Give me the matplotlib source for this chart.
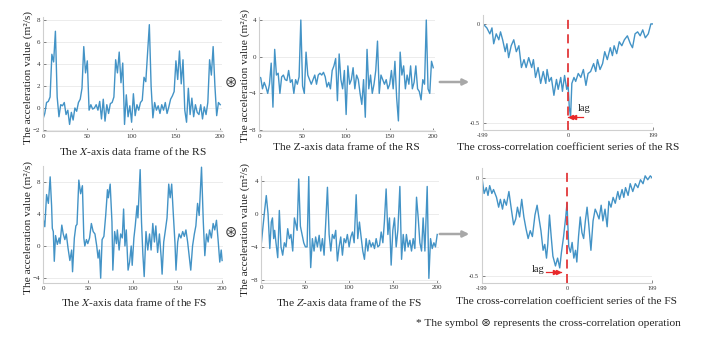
import numpy as np
import matplotlib
matplotlib.use("Agg")
import matplotlib.pyplot as plt
from matplotlib.patches import FancyArrowPatch

plt.rcParams['font.family'] = ['Liberation Serif', 'DejaVu Sans']
plt.rcParams['mathtext.fontset'] = 'stix'

# ---- data ----

# X axis, RS (every 2 samples)
rs_x_t = list(range(0, 201, 2))
rs_x = [-1.0, -0.5, 0.5, 0.6, 1.0, 4.9, 4.2, 7.0, 1.0, -0.8,
        0.3, 0.2, 0.5, -0.6, -0.2, -1.5, -0.4, -1.1, 0.0, -0.3,
        0.5, 0.8, 1.8, 5.6, 3.2, 4.3, -0.2, 0.3, -0.1, 0.0,
        0.3, -0.2, 0.6, -1.0, 0.8, -1.2, 0.3, -0.5, 0.4, 0.5,
        1.0, 4.4, 3.2, 5.1, 2.3, 4.1, -1.5, 1.2, -0.8, 0.2,
        -1.3, 1.3, -0.7, 0.3, -0.2, 0.5, 0.7, 2.8, 2.4, 5.0,
        7.6, 2.0, -0.9, 0.5, -0.2, 0.2, -0.5, 0.3, -0.2, 0.5,
        -0.5, 0.1, 0.8, 1.1, 1.5, 4.3, 2.6, 5.2, 2.2, 4.4,
        -0.2, -1.3, 1.8, -0.6, 0.9, -0.8, 0.3, -0.4, -0.6, 0.3,
        -1.0, 0.1, -0.6, 0.5, 4.4, 3.0, 5.6, 2.0, -0.7, 0.5,
        0.3]

# Z axis, RS (every 2 samples)
rs_z_t = list(range(0, 201, 2))
rs_z = [-2.2, -2.3, -3.5, -2.8, -3.3, -4.0, -3.0, -0.7, -5.5, 0.8,
        -2.0, -1.8, -4.0, -2.2, -2.0, -2.5, -2.6, -1.5, -2.8, -2.5,
        -4.0, -2.5, -3.0, -2.2, 4.0, -3.2, -4.0, 0.5, -2.0, -2.5,
        -3.0, -2.5, -2.0, -3.0, -2.0, -1.8, -2.0, -1.7, -2.2, -3.3,
        -2.8, -3.5, -1.5, -1.0, -0.2, -4.8, 0.3, -2.5, -3.5, -1.5,
        -6.3, -1.0, -3.0, -2.5, -1.2, -3.5, -2.0, -2.5, -4.0, -5.2,
        -2.5, -6.6, 0.8, -3.5, -2.0, -4.0, -3.0, -1.5, 1.7, -4.0,
        -2.0, -2.5, -3.0, -2.5, -3.5, -3.0, -1.5, -3.5, -0.5, -4.5,
        -7.0, 0.5, -2.0, -1.0, -3.5, -2.0, -3.0, -1.0, -3.5, -2.8,
        -1.0, -3.5, -3.8, -4.7, -2.5, -3.0, 4.0, -3.5, -4.0, -0.5,
        -1.2]

# X axis, FS
fs_x_t = [0, 2, 4, 6, 8, 9.6, 10.4, 11.5, 12.6, 14, 16, 18, 19, 21, 22.6, 24.4, 26, 28, 30, 32,
          33, 35, 36.7, 38, 40, 42, 44, 45.6, 46.7, 48.5, 50, 52, 54, 56, 58, 60, 61.5, 63, 64.4, 66,
          68, 70, 72, 73, 75, 77, 78, 80, 82, 83, 85, 86.7, 88.5, 90, 91.5, 93, 95, 96.7, 98.5, 99.6,
          101.5, 103, 105, 106, 108.5, 110, 111.5, 113, 115, 117, 119, 120.7, 122.6, 124.4, 126, 128, 130, 132, 133, 134.8,
          136.7, 138.5, 140.4, 142, 143.7, 145.5, 147.4, 148.5, 150.4, 152, 154, 156, 157.8, 159.6, 161.5, 163, 165, 167, 169, 170.7,
          172.6, 174.4, 177, 179, 180.7, 182.6, 184.4, 186, 188, 190, 191.8, 193.7, 195.5, 197.4, 199, 200]
fs_x = [3.5, 2.4, 6.4, 5.3, 8.6, 5.0, 2.2, 1.8, -1.9, 1.3, 0.2, 1.0, 0.3, 2.6, 1.5, 0.8, 1.5, -0.3, -1.8, -0.5,
        -3.2, 1.0, 2.5, 2.7, 8.2, 6.5, 7.5, 1.0, 0.0, 0.8, 0.3, 1.0, 2.8, 1.8, 1.5, 0.0, -1.5, -0.5, -4.0, 0.8,
        1.2, 3.8, 7.0, 6.0, 7.7, 3.0, -3.0, 1.8, 0.3, 2.0, -0.5, 1.5, 1.0, 4.6, 0.0, 2.0, -3.0, -2.0, 0.0, -2.4,
        1.0, 2.5, 5.0, 3.5, 9.5, 3.0, -1.0, -3.8, 1.8, -0.5, 1.5, -0.5, 2.8, 0.5, 2.5, -0.8, 1.5, -1.5, -3.5, 0.5,
        2.0, 3.5, 7.7, 6.0, 7.7, 4.0, 0.3, -3.0, 0.5, 1.5, 1.0, 1.8, 1.2, 2.0, 0.5, -1.0, -3.0, 0.0, 1.5, 2.5,
        5.3, 3.8, 9.8, 3.0, -1.2, 1.5, 0.5, 2.0, 1.0, 2.8, 2.0, 3.2, 0.8, -2.0, -0.5, -1.8]

# Z axis, FS
fs_z_t = [0, 2.3, 4.2, 6, 8, 10, 11.7, 13, 14.4, 15.5, 17, 19, 20.8, 22.7, 24.6, 26.5, 28.4, 30.3, 32.2, 34,
          36, 37.9, 41, 42.8, 44.7, 46.6, 48.5, 50.4, 52.3, 54.2, 55.3, 56.4, 58.3, 60.2, 62, 64, 66, 67.8, 69.7, 71.6,
          73.5, 75.4, 77.3, 79.2, 81, 83, 84.8, 86.7, 88.6, 90.5, 92.4, 94.3, 96.2, 98, 100, 101.9, 103.8, 105.7, 108, 109.8,
          111.7, 113.6, 115.5, 117.4, 119.3, 121.2, 123, 125, 126.9, 128.8, 130.7, 132.6, 134.5, 136.4, 138.3, 140, 142, 144, 145.8, 147.7,
          149.6, 151.5, 153.4, 155.3, 157.6, 159.5, 161.4, 163.3, 165, 167, 169, 170.8, 172.7, 174.6, 176.5, 178.4, 180.3, 182.2, 184, 186,
          188.6, 190.5, 192.4, 194.3, 196.2, 198, 200]
fs_z = [-4.0, -1.5, 0.5, 2.2, 0.0, -4.2, -1.0, -0.5, -3.0, -2.0, -3.5, -5.3, 0.4, -4.0, -5.0, -3.5, -4.0, -1.8, -3.0, -2.5,
        -4.5, -0.5, -2.0, 4.2, -1.5, -2.5, -3.5, -4.0, -4.0, 4.5, -2.5, -6.5, -3.0, -4.5, -2.8, -4.0, -2.6, -4.5, -3.0, -5.0,
        -1.0, 3.2, -2.5, -4.5, -2.5, -3.0, -2.0, -5.7, -4.0, -2.8, -5.0, -3.0, -3.5, -2.5, -4.0, -2.8, -2.2, -3.5, 2.3, -3.0,
        -1.0, -2.8, -4.5, -5.5, -3.0, -4.5, -3.2, -4.0, -3.5, -4.2, -3.0, -4.0, -3.8, -2.2, -3.5, -1.0, 3.0, -2.5, -0.5, -6.2,
        -2.0, -0.5, -4.0, -2.0, 3.3, -5.5, -2.5, -4.5, -2.5, -4.0, -3.2, -4.5, -3.0, -4.2, 2.0, -0.5, -3.5, -4.5, -0.5, -4.5,
        3.3, -7.8, -3.0, -4.2, -3.5, -4.0, -2.5]

# cross-correlation, RS
cc_rs_lag = [-199, -190, -183, -178, -174, -168, -162, -158, -153, -147, -143, -139, -133, -127, -121, -115, -109, -103, -98, -92,
             -85, -81, -76, -70, -64, -58, -52, -49, -44, -39, -33, -27, -23, -17, -13, -8, -3, 0, 3, 6,
             9, 14, 18, 24, 30, 36, 42, 47, 53, 60, 65, 69, 75, 81, 86, 92, 99, 104, 108, 114,
             120, 126, 132, 139, 146, 151, 157, 163, 169, 175, 181, 188, 194, 199]
cc_rs = [0.0, -0.02, -0.05, -0.02, -0.10, -0.05, -0.08, -0.04, -0.08, -0.14, -0.10, -0.17, -0.11, -0.08, -0.14, -0.11, -0.22, -0.18, -0.22, -0.17,
         -0.22, -0.18, -0.27, -0.22, -0.30, -0.24, -0.30, -0.23, -0.29, -0.27, -0.36, -0.28, -0.33, -0.27, -0.34, -0.26, -0.33, -0.30, -0.42, -0.47,
         -0.30, -0.27, -0.29, -0.25, -0.27, -0.23, -0.31, -0.25, -0.24, -0.20, -0.24, -0.18, -0.23, -0.20, -0.14, -0.18, -0.12, -0.16, -0.11, -0.15,
         -0.09, -0.11, -0.08, -0.06, -0.10, -0.12, -0.05, -0.04, -0.06, -0.03, -0.07, -0.05, 0.0, 0.0]

# cross-correlation, FS
cc_fs_lag = [-199, -194, -189, -185, -181, -176, -172, -165, -160, -156, -151, -147, -142, -136, -131, -125, -120, -116, -111, -106,
             -101, -96, -91, -86, -81, -75, -70, -66, -61, -56, -52, -48, -45, -41, -37, -33, -27, -22, -17, -13,
             -8, -3, 0, 4, 8, 12, 16, 20, 23, 27, 31, 35, 39, 43, 47, 51, 56, 61, 66, 70,
             75, 80, 84, 89, 94, 98, 103, 108, 113, 119, 123, 129, 133, 137, 143, 148, 154, 160, 166, 172,
             178, 183, 189, 195, 199]
cc_fs = [0.0, -0.08, -0.05, -0.09, -0.04, -0.08, -0.06, -0.10, -0.15, -0.11, -0.16, -0.11, -0.14, -0.07, -0.15, -0.24, -0.21, -0.15, -0.20, -0.11,
         -0.20, -0.26, -0.31, -0.27, -0.30, -0.19, -0.14, -0.20, -0.27, -0.37, -0.34, -0.41, -0.34, -0.19, -0.30, -0.40, -0.45, -0.41, -0.46, -0.38,
         -0.30, -0.20, -0.13, -0.35, -0.38, -0.33, -0.41, -0.37, -0.43, -0.30, -0.20, -0.28, -0.31, -0.22, -0.15, -0.24, -0.37, -0.22, -0.16, -0.18,
         -0.21, -0.14, -0.22, -0.16, -0.25, -0.12, -0.15, -0.10, -0.13, -0.07, -0.11, -0.06, -0.10, -0.05, -0.09, -0.03, -0.07, -0.03, -0.05, -0.01,
         -0.03, 0.01, -0.01, 0.01, 0.0]

ylabel = "The acceleration value (m²/s)"
titles = ["The $\\mathit{X}$-axis data frame of the RS",
          "The Z-axis data frame of the RS",
          "The cross-correlation coefficient series of the RS",
          "The $\\mathit{X}$-axis data frame of the FS",
          "The $\\mathit{Z}$-axis data frame of the FS",
          "The cross-correlation coefficient series of the FS"]

# ---- layout (pixels of a 706x340 canvas) ----
W, H = 706, 340
fig = plt.figure(figsize=(W / 100, H / 100), dpi=100)

LINE = '#4393c6'
GRID = '#ececec'
SPINE = '#cfcfcf'


def box(l, t, r, b):
    return [l / W, 1 - b / H, (r - l) / W, (b - t) / H]


def fx(px):
    return px / W


def fy(py):
    return 1 - py / H


def setup(ax, xlim, ylim, xticks, yticks, xtl=None, ytl=None, fs=5):
    ax.set_xlim(xlim)
    ax.set_ylim(ylim)
    ax.set_xticks(xticks)
    ax.set_yticks(yticks)
    if xtl is not None:
        ax.set_xticklabels(xtl)
    if ytl is not None:
        ax.set_yticklabels(ytl)
    for s in ['top', 'right']:
        ax.spines[s].set_visible(False)
    for s in ['left', 'bottom']:
        ax.spines[s].set_color(SPINE)
        ax.spines[s].set_linewidth(0.8)
    ax.yaxis.grid(True, color=GRID, lw=0.7)
    ax.set_axisbelow(True)
    ax.tick_params(labelsize=fs, colors='#555555', length=2, width=0.5, direction='in', pad=2)
    for lab in ax.get_xticklabels() + ax.get_yticklabels():
        lab.set_color('#333333')


# top row
ax1 = fig.add_axes(box(43, 17, 222, 131))
ax1.plot(rs_x_t, rs_x, color=LINE, lw=1.0)
setup(ax1, (0, 202), (-2.1, 8.3), [0, 50, 100, 150, 200], [-2, 0, 2, 4, 6, 8])

ax2 = fig.add_axes(box(259, 17, 435, 131))
ax2.plot(rs_z_t, rs_z, color=LINE, lw=1.0)
setup(ax2, (0, 202), (-8.1, 4.33), [0, 50, 100, 150, 200], [-8, -4, 0, 4])

ax3 = fig.add_axes(box(483, 15, 653, 130))
ax3.plot(cc_rs_lag, cc_rs, color=LINE, lw=1.0)
ax3.axvline(0, color='#e2383a', lw=1.3, ls=(0, (5, 3)))
setup(ax3, (-199, 199), (-0.535, 0.045), [-199, 0, 199], [-0.5, 0],
      xtl=['-199', '0', '199'], ytl=['-0.5', '0'], fs=4.5)
ax3.plot([1, 35], [-0.47, -0.47], color='#e8282a', lw=0.9)
ax3.plot([7, 13], [-0.47, -0.47], ls='none', marker='<', ms=3, color='#e8282a')
ax3.text(22, -0.425, "lag", fontsize=7.5, color='#222222', ha='left', va='center')

# bottom row
ax4 = fig.add_axes(box(43, 165.6, 223, 283))
ax4.plot(fs_x_t, fs_x, color=LINE, lw=1.0)
setup(ax4, (0, 201), (-4.6, 10), [0, 50, 100, 150, 200], [-4, 0, 4, 8])

ax5 = fig.add_axes(box(261, 175.7, 439, 282.5))
ax5.plot(fs_z_t, fs_z, color=LINE, lw=1.0)
setup(ax5, (0, 202), (-8.3, 4.6), [0, 50, 100, 150, 200], [-8, -4, 0, 4])

ax6 = fig.add_axes(box(482, 168, 652, 283))
ax6.plot(cc_fs_lag, cc_fs, color=LINE, lw=1.0)
ax6.axvline(0, color='#e2383a', lw=1.3, ls=(0, (5, 3)))
setup(ax6, (-199, 199), (-0.537, 0.05), [-199, 0, 199], [-0.5, 0],
      xtl=['-199', '0', '199'], ytl=['-0.5', '0'], fs=4.5)
ax6.plot([-48, -14], [-0.48, -0.48], color='#e8282a', lw=0.9)
ax6.plot([-28, -21], [-0.48, -0.48], ls='none', marker='>', ms=3, color='#e8282a')
ax6.text(-52, -0.467, "lag", fontsize=7.5, color='#222222', ha='right', va='center')

# axis titles under panels
title_pos = [(133, 151), (346, 148), (568, 148), (134, 302), (349, 302), (567, 302)]
for (px, py), t in zip(title_pos, titles):
    fig.text(fx(px), fy(py), t, fontsize=8.2, ha='center', va='center', color='#222222')

# y labels
for px, py in [(28, 78), (245, 75), (28, 228), (245, 229)]:
    fig.text(fx(px), fy(py), ylabel, fontsize=8.2, rotation=90, ha='center', va='center', color='#222222')

# cross-correlation symbols
for py in [82, 232]:
    fig.text(fx(231), fy(py), "⊛", fontsize=10.5, ha='center', va='center', color='#333333',
             family=['DejaVu Sans'])

# gray arrows
for py in [82, 234]:
    fig.add_artist(FancyArrowPatch((fx(437), fy(py)), (fx(472), fy(py)), transform=fig.transFigure,
                                   arrowstyle='-|>', mutation_scale=9, color='#a8a8a8', lw=1.8))

fig.text(fx(548), fy(323), "* The symbol ⊛ represents the cross-correlation operation",
         fontsize=8.2, ha='center', va='center', color='#222222',
         family=['Liberation Serif', 'DejaVu Sans'])

fig.savefig("out.png", dpi=100)
